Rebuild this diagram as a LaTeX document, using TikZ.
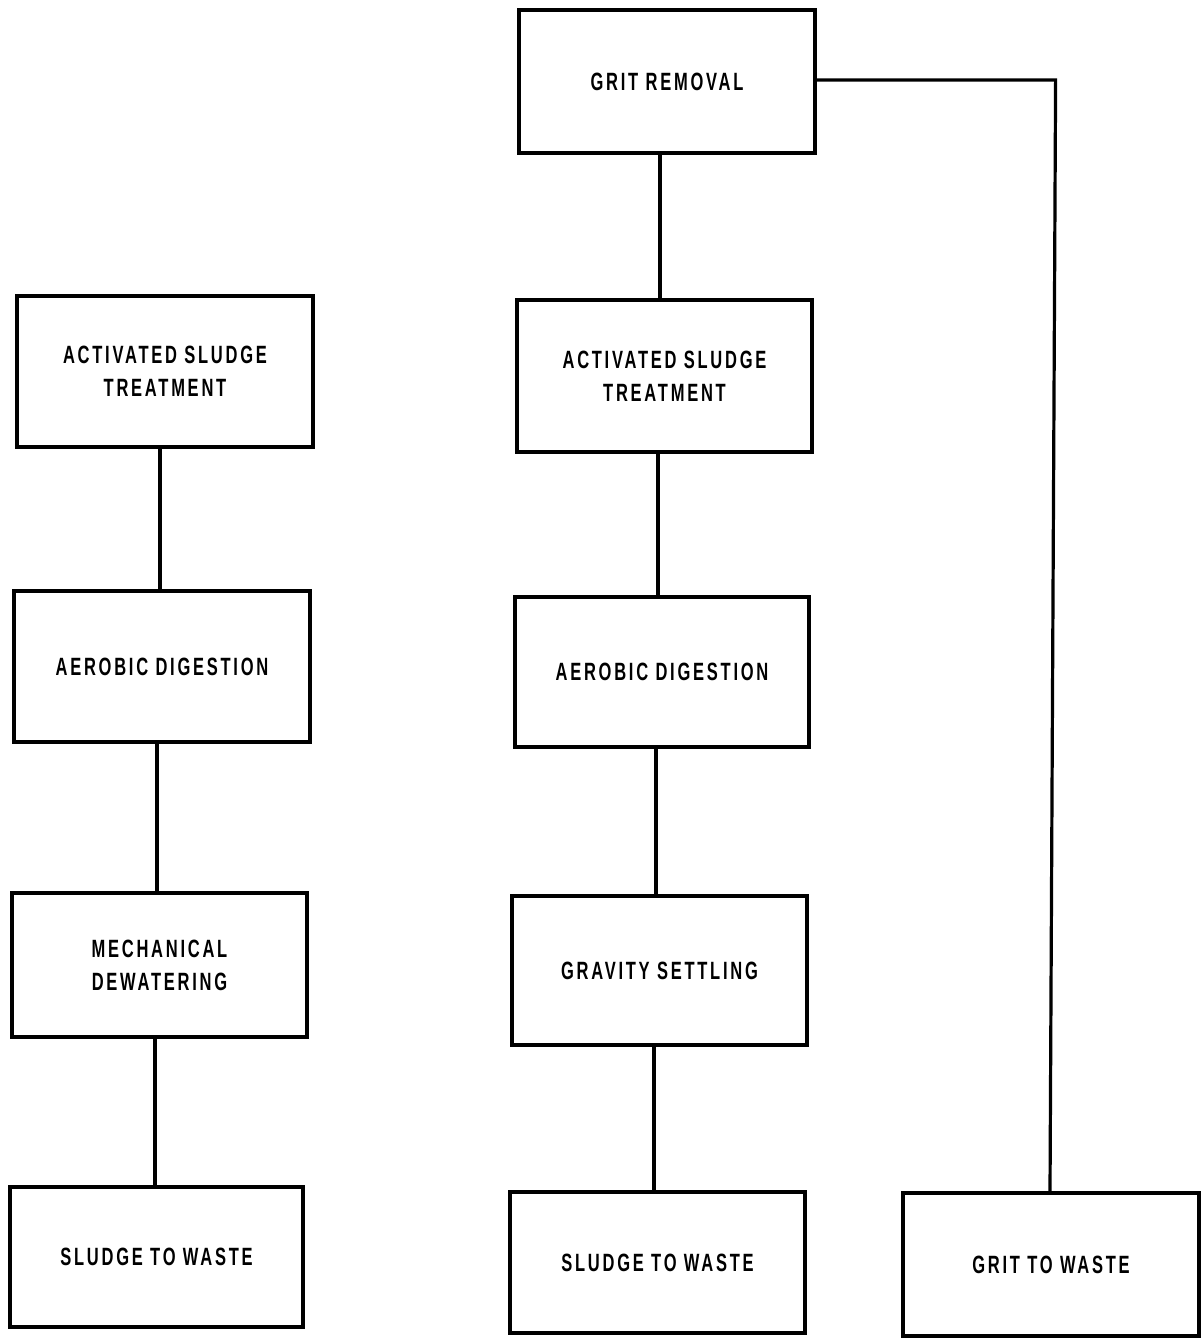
\documentclass[tikz,border=0pt]{standalone}
\usepackage{fontspec}
\newfontfamily\labfont[FakeStretch=0.66,LetterSpace=11]{Liberation Sans}
\begin{document}
\begin{tikzpicture}[x=1pt,y=-1pt,
  box/.style={draw,line width=3.2pt,rectangle,inner sep=0pt,align=center,
    font=\labfont\bfseries\fontsize{25}{33}\selectfont},
  link/.style={line width=3.2pt}]
\useasboundingbox (0,0) rectangle (1201,1338);
% left column
\node[box,minimum width=296,minimum height=151] (L1) at (165,371.5) {ACTIVATED SLUDGE\\TREATMENT};
\node[box,minimum width=296,minimum height=151] (L2) at (162,666.5) {AEROBIC DIGESTION};
\node[box,minimum width=295,minimum height=144] (L3) at (159.5,965) {MECHANICAL\\DEWATERING};
\node[box,minimum width=293,minimum height=140] (L4) at (156.5,1257) {SLUDGE TO WASTE};
% middle column
\node[box,minimum width=296,minimum height=143] (M0) at (667,81.5) {GRIT REMOVAL};
\node[box,minimum width=295,minimum height=152] (M1) at (664.5,376) {ACTIVATED SLUDGE\\TREATMENT};
\node[box,minimum width=294,minimum height=150] (M2) at (662,672) {AEROBIC DIGESTION};
\node[box,minimum width=295,minimum height=149] (M3) at (659.5,970.5) {GRAVITY SETTLING};
\node[box,minimum width=295,minimum height=141] (M4) at (657.5,1262.5) {SLUDGE TO WASTE};
% right
\node[box,minimum width=296,minimum height=143] (R) at (1051,1264.5) {GRIT TO WASTE};
% connectors
\draw[link] ([xshift=-5]L1.south) -- ([xshift=-5]L1.south |- L2.north);
\draw[link] ([xshift=-5]L2.south) -- ([xshift=-5]L2.south |- L3.north);
\draw[link] ([xshift=-4.5]L3.south) -- ([xshift=-4.5]L3.south |- L4.north);
\draw[link] ([xshift=-7]M0.south) -- ([xshift=-7]M0.south |- M1.north);
\draw[link] ([xshift=-6.5]M1.south) -- ([xshift=-6.5]M1.south |- M2.north);
\draw[link] ([xshift=-6]M2.south) -- ([xshift=-6]M2.south |- M3.north);
\draw[link] ([xshift=-5.5]M3.south) -- ([xshift=-5.5]M3.south |- M4.north);
\draw[link] ([yshift=1.5]M0.east) -- ++(239,0) -- ([xshift=-1]R.north);
\end{tikzpicture}
\end{document}
